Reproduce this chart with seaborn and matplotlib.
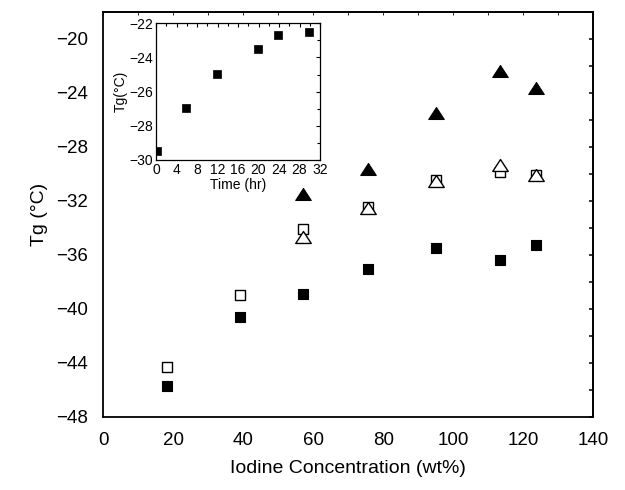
import numpy as np
import pandas as pd
import matplotlib
matplotlib.use("Agg")
import matplotlib.pyplot as plt
import seaborn as sns
from matplotlib.ticker import MultipleLocator

sns.set_style("white")
plt.rcParams['font.family'] = ['Liberation Sans', 'DejaVu Sans']
plt.rcParams['axes.unicode_minus'] = True
plt.rcParams['text.color'] = 'black'
plt.rcParams['axes.labelcolor'] = 'black'
plt.rcParams['xtick.color'] = 'black'
plt.rcParams['ytick.color'] = 'black'

# ---- data ----
conc = [18.3, 39.0, 57.1, 75.7, 95.1, 113.3, 123.6]
tg_filled_sq = [-45.7, -40.6, -38.9, -37.05, -35.5, -36.4, -35.3]
tg_open_sq = [-44.35, -39.0, -34.1, -32.45, -30.45, -29.85, -30.05]
conc_tri = [57.1, 75.7, 95.1, 113.3, 123.6]
tg_open_tri = [-34.65, -32.5, -30.5, -29.35, -30.1]
tg_filled_tri = [-31.5, -29.65, -25.5, -22.4, -23.6]

time_hr = [0.1, 5.9, 11.9, 19.9, 23.9, 29.9]
tg_time = [-29.45, -26.95, -24.95, -23.5, -22.7, -22.5]

main_xlabel = "Iodine Concentration (wt%)"
main_ylabel = "Tg (\u00b0C)"
inset_xlabel = "Time (hr)"
inset_ylabel = "Tg(\u00b0C)"

fig = plt.figure(figsize=(6.25, 4.9), dpi=100)
ax = fig.add_axes([0.1653, 0.1496, 0.784, 0.826])

tri = [(0, 0.77), (-1, -0.77), (1, -0.77), (0, 0.77)]

df_fs = pd.DataFrame({"x": conc, "y": tg_filled_sq})
df_os = pd.DataFrame({"x": conc, "y": tg_open_sq})
df_ot = pd.DataFrame({"x": conc_tri, "y": tg_open_tri})
df_ft = pd.DataFrame({"x": conc_tri, "y": tg_filled_tri})

sns.scatterplot(data=df_fs, x="x", y="y", marker="s", s=62, color="black",
                edgecolor="black", linewidth=0.8, ax=ax, zorder=3)
sns.scatterplot(data=df_os, x="x", y="y", marker="s", s=62, facecolor="white",
                edgecolor="black", linewidth=1.0, ax=ax, zorder=3)
sns.scatterplot(data=df_ot, x="x", y="y", marker=tri, s=125, facecolor="white",
                edgecolor="black", linewidth=1.0, ax=ax, zorder=4)
sns.scatterplot(data=df_ft, x="x", y="y", marker=tri, s=125, color="black",
                edgecolor="black", linewidth=0.8, ax=ax, zorder=4)

ax.set_xlim(0, 140)
ax.set_ylim(-48, -18)
ax.xaxis.set_major_locator(MultipleLocator(20))
ax.xaxis.set_minor_locator(MultipleLocator(10))
ax.yaxis.set_major_locator(MultipleLocator(4))
ax.yaxis.set_minor_locator(MultipleLocator(2))
ax.set_xlabel(main_xlabel, fontsize=14, labelpad=8)
ax.set_ylabel(main_ylabel, fontsize=14, labelpad=6)
for s in ax.spines.values():
    s.set_linewidth(1.3)
    s.set_color("black")
ax.tick_params(axis="both", which="major", direction="out", length=7, width=1.1,
               labelsize=13.5, colors="black", pad=4)
ax.tick_params(axis="both", which="minor", direction="out", length=4, width=1.1)
ax.tick_params(right=False, top=False, which="both")
ax.grid(False)

# inward right/top ticks
axr = ax.secondary_yaxis("right")
axr.yaxis.set_major_locator(MultipleLocator(2))
axr.tick_params(direction="in", length=3, width=1.1, labelright=False)
axr.spines["right"].set_linewidth(1.3)
axt = ax.secondary_xaxis("top")
axt.xaxis.set_major_locator(MultipleLocator(10))
axt.tick_params(direction="in", length=2, width=0.6, labeltop=False)
axt.spines["top"].set_linewidth(1.3)

# ---- inset ----
ins = fig.add_axes([0.2496, 0.6735, 0.2624, 0.2789])
df_t = pd.DataFrame({"t": time_hr, "tg": tg_time})
sns.scatterplot(data=df_t, x="t", y="tg", marker="s", s=30, color="black",
                edgecolor="black", linewidth=0.5, ax=ins, zorder=3)
ins.set_xlim(0, 32)
ins.set_ylim(-30, -22)
ins.xaxis.set_major_locator(MultipleLocator(4))
ins.xaxis.set_minor_locator(MultipleLocator(2))
ins.yaxis.set_major_locator(MultipleLocator(2))
ins.yaxis.set_minor_locator(MultipleLocator(1))
ins.tick_params(axis="both", which="major", direction="in", length=3, width=0.8,
                labelsize=10, top=True, right=True, pad=2, colors="black")
ins.tick_params(axis="both", which="minor", direction="in", length=2, width=0.8,
                top=True, right=True)
ins.set_xlabel(inset_xlabel, fontsize=10, labelpad=1)
ins.set_ylabel(inset_ylabel, fontsize=10, labelpad=1)
for s in ins.spines.values():
    s.set_linewidth(0.9)
    s.set_color("black")
ins.grid(False)

fig.savefig("out.png", dpi=100)
